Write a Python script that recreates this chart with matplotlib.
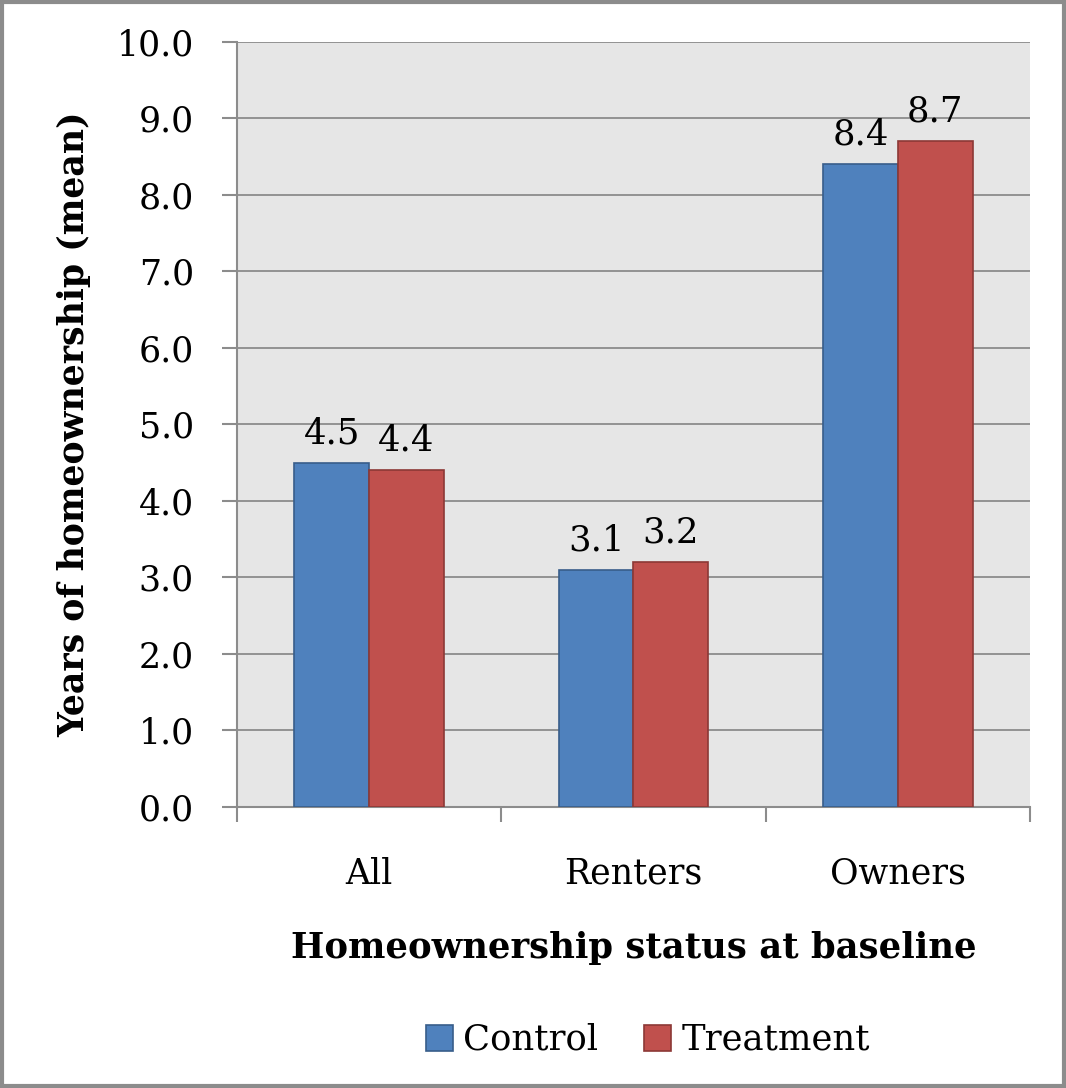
import matplotlib.pyplot as plt
import numpy as np
from matplotlib.patches import Rectangle

# mean years of homeownership by baseline status
groups = ['All', 'Renters', 'Owners']
control = [4.5, 3.1, 8.4]
treatment = [4.4, 3.2, 8.7]

plt.rcParams['font.family'] = ['DejaVu Serif']

fig = plt.figure(figsize=(10.66, 10.88), dpi=100)
ax = fig.add_axes([0.2223, 0.2583, 0.7439, 0.7031])
ax.set_facecolor('#E6E6E6')

x = np.arange(len(groups))
w = 0.283
b1 = ax.bar(x - w / 2, control, w, color='#4F81BD', edgecolor='#385D8A',
            linewidth=1.2, label='Control', zorder=3)
b2 = ax.bar(x + w / 2, treatment, w, color='#C0504D', edgecolor='#8C3836',
            linewidth=1.2, label='Treatment', zorder=3)

for bars, vals in ((b1, control), (b2, treatment)):
    for r, v in zip(bars, vals):
        ax.annotate(f'{v:.1f}', (r.get_x() + r.get_width() / 2, v),
                    xytext=(0, 9), textcoords='offset points',
                    ha='center', va='bottom', fontsize=25.5)

ax.set_ylim(0, 10)
ax.set_xlim(-0.5, 2.5)
ax.set_yticks(np.arange(0, 10.1, 1))
ax.set_yticklabels([f'{t:.1f}' for t in np.arange(0, 10.1, 1)])
ax.yaxis.grid(True, color='#8C8C8C', linewidth=1.3, zorder=0)
ax.set_axisbelow(True)

ax.set_xticks(x)
ax.set_xticklabels(groups)
ax.set_xticks([-0.5, 0.5, 1.5, 2.5], minor=True)
ax.tick_params(axis='x', which='major', length=0, pad=36, labelsize=25)
ax.tick_params(axis='x', which='minor', length=11, width=1.5, color='#8C8C8C',
               direction='out')
ax.tick_params(axis='y', length=11, width=1.5, color='#8C8C8C', pad=20,
               labelsize=25)

for s in ('top', 'right'):
    ax.spines[s].set_visible(False)
for s in ('left', 'bottom'):
    ax.spines[s].set_color('#8C8C8C')
    ax.spines[s].set_linewidth(1.5)

ax.set_ylabel('Years of homeownership (mean)', fontsize=25, fontweight='bold')
ax.yaxis.set_label_coords(-0.184, 0.5)
ax.set_xlabel('Homeownership status at baseline', fontsize=25.5,
              fontweight='bold')
ax.xaxis.set_label_coords(0.5, -0.162)

fig.legend(handles=[b1, b2], loc='center', ncol=2, frameon=False,
           bbox_to_anchor=(648 / 1066, 1 - 1040 / 1088), fontsize=25.5,
           handlelength=0.75, handleheight=0.75, handletextpad=0.3,
           columnspacing=1.3)

# grey frame around the whole figure
fig.patches.append(Rectangle((0.0015, 0.0015), 0.997, 0.997,
                             transform=fig.transFigure, fill=False,
                             edgecolor='#8C8C8C', linewidth=3))

plt.savefig('out.png')
